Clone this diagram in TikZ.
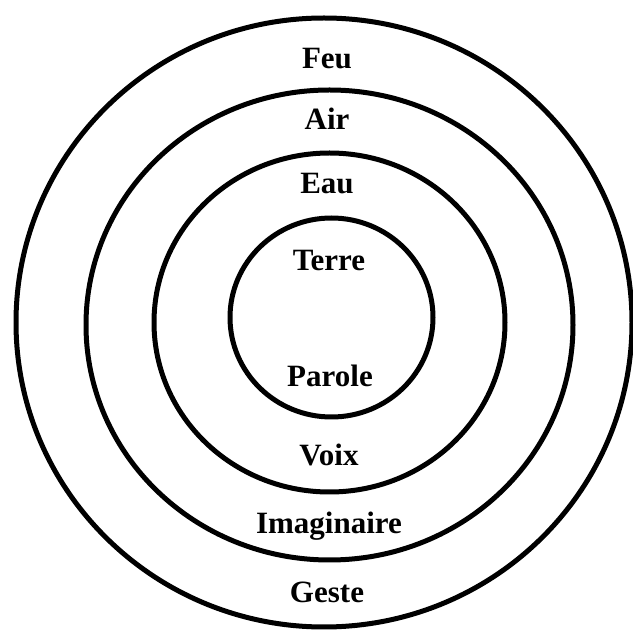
\documentclass[tikz,border=0pt]{standalone}
\usepackage{fontspec}
\setmainfont{Liberation Serif}
\begin{document}
\begin{tikzpicture}[x=1pt,y=1pt,
  ring/.style={draw=black,line width=5pt},
  lbl/.style={anchor=base,inner sep=0pt,font=\fontsize{31}{37}\selectfont\bfseries}]
\useasboundingbox (0,0) rectangle (633,630);
% rings (image y -> 630 - y)
\draw[ring] (324,307.5) ellipse [x radius=308,y radius=304.5];
\draw[ring] (329.5,305) ellipse [x radius=243.5,y radius=235];
\draw[ring] (329.5,307.5) ellipse [x radius=175.5,y radius=169.5];
\draw[ring] (331.5,312.5) ellipse [x radius=101.5,y radius=99.5];
% labels
\node[lbl] (feu) at (327,561) {Feu};
\node[lbl] (air) at (327,500.7) {Air};
\node[lbl] (eau) at (327,436) {Eau};
\node[lbl] (terre) at (329,359.5) {Terre};
\node[lbl] (parole) at (330,243) {Parole};
\node[lbl] (voix) at (329,164) {Voix};
\node[lbl] (imag) at (329,96) {Imaginaire};
\node[lbl] (geste) at (327,27) {Geste};
\end{tikzpicture}
\end{document}
